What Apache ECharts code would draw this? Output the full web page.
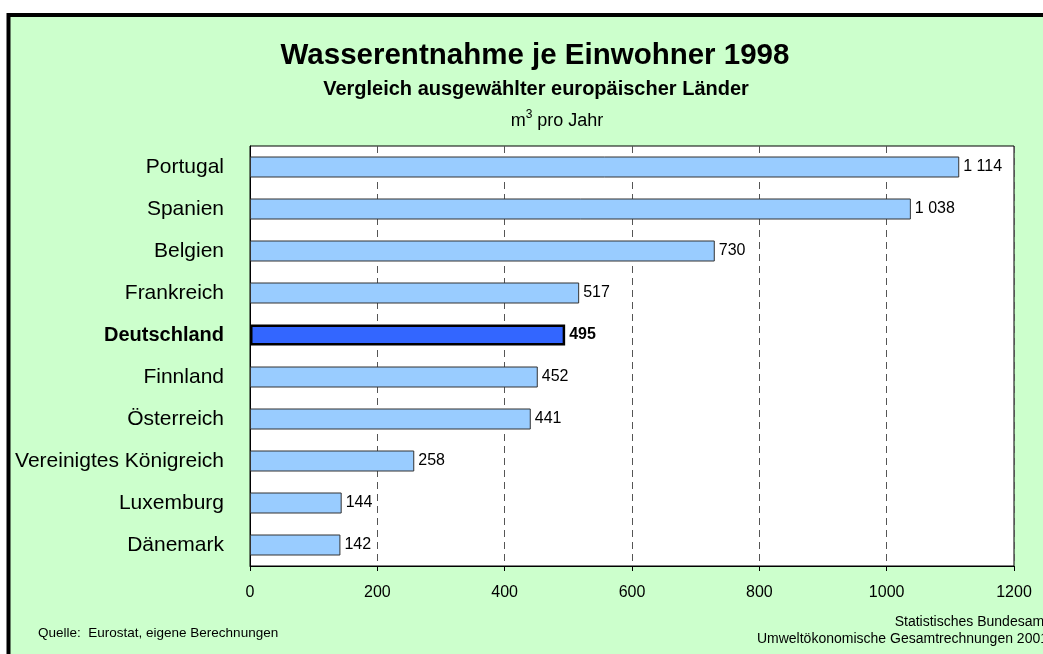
<!DOCTYPE html>
<html lang="de">
<head>
  <meta charset="UTF-8">
  <title>Wasserentnahme je Einwohner 1998</title>
  <style>
    html, body { margin: 0; padding: 0; background: #fff; }
    #myEcharts { width: 1043px; height: 654px; }
  </style>
  <script src="https://cdn.jsdelivr.net/npm/echarts@6/dist/echarts.min.js"></script>
</head>
<body>
  <div id="myEcharts"></div>
  <script>
    // Daten (m³ pro Jahr und Einwohner)
    var laender = ['Portugal', 'Spanien', 'Belgien', 'Frankreich', 'Deutschland',
      'Finnland', 'Österreich', 'Vereinigtes Königreich', 'Luxemburg', 'Dänemark'];
    var werte = [1114, 1038, 730, 517, 495, 452, 441, 258, 144, 142];
    var hervorgehoben = 'Deutschland';

    var fontName = 'Liberation Sans, Arial, sans-serif';

    // 1114 -> "1 114"
    function tausender(v) {
      return String(v).replace(/\B(?=(\d{3})+(?!\d))/g, ' ');
    }

    var myChart = echarts.init(document.getElementById('myEcharts'));
    var option = {
      backgroundColor: '#fff',
      textStyle: { fontFamily: fontName },
      graphic: [
        {
          type: 'rect', z: -10, silent: true,
          shape: { x: 8.5, y: 15, width: 1100, height: 700 },
          style: { fill: '#CCFFCC', stroke: '#000', lineWidth: 4 }
        },
        {
          type: 'text', x: 38, y: 633,
          style: { text: 'Quelle:  Eurostat, eigene Berechnungen', fontSize: 13.5, fill: '#000',
            verticalAlign: 'middle', fontFamily: fontName }
        },
        {
          type: 'text', x: 1048, y: 622,
          style: { text: 'Statistisches Bundesamt', fontSize: 14, fill: '#000', align: 'right',
            verticalAlign: 'middle', fontFamily: fontName }
        },
        {
          type: 'text', x: 1048, y: 639,
          style: { text: 'Umweltökonomische Gesamtrechnungen 2001', fontSize: 14, fill: '#000', align: 'right',
            verticalAlign: 'middle', fontFamily: fontName }
        }
      ],
      title: [
        {
          text: 'Wasserentnahme je Einwohner 1998',
          left: 530, top: 36, textAlign: 'center',
          textStyle: { fontSize: 29.5, fontWeight: 'bold', color: '#000', fontFamily: fontName }
        },
        {
          text: 'Vergleich ausgewählter europäischer Länder',
          left: 531, top: 74, textAlign: 'center',
          textStyle: { fontSize: 20, fontWeight: 'bold', color: '#000', fontFamily: fontName }
        },
        {
          text: '{a|m}{s|3}{a| pro Jahr}',
          left: 552, top: 104, textAlign: 'center',
          textStyle: {
            fontFamily: fontName, fontWeight: 'normal',
            rich: {
              a: { fontSize: 18, lineHeight: 24, fontWeight: 'normal', color: '#000', fontFamily: fontName },
              s: { fontSize: 12, lineHeight: 24, fontWeight: 'normal', verticalAlign: 'top', color: '#000', fontFamily: fontName }
            }
          }
        }
      ],
      grid: {
        left: 250, top: 146, width: 764, height: 420,
        show: true, backgroundColor: '#fff', borderColor: '#000', borderWidth: 1
      },
      xAxis: {
        type: 'value', min: 0, max: 1200, interval: 200,
        axisLine: { show: true, lineStyle: { color: '#000', width: 1 } },
        axisTick: { show: true, length: 5, lineStyle: { color: '#000' } },
        axisLabel: {
          margin: 19, fontSize: 16, color: '#000', fontFamily: fontName,
          formatter: function (v) { return String(v); }
        },
        splitLine: { show: true, lineStyle: { color: '#555', type: [7, 5], width: 1 } }
      },
      yAxis: {
        type: 'category', data: laender, inverse: true,
        axisLine: { show: true, lineStyle: { color: '#000', width: 1 } },
        axisTick: { show: false },
        axisLabel: {
          margin: 26, fontSize: 21, color: '#000', fontFamily: fontName,
          formatter: function (v) { return v === hervorgehoben ? '{b|' + v + '}' : v; },
          rich: { b: { fontSize: 20, fontWeight: 'bold', color: '#000', fontFamily: fontName } }
        }
      },
      series: [{
        type: 'bar',
        barCategoryGap: '50%',
        data: werte.map(function (v, i) {
          var hl = laender[i] === hervorgehoben;
          return {
            value: v,
            itemStyle: hl ? { color: '#3366FF', borderColor: '#000', borderWidth: 2.5 }
                          : { color: '#99CCFF', borderColor: '#333', borderWidth: 1 },
            label: hl ? { fontWeight: 'bold' } : {}
          };
        }),
        label: {
          show: true, position: 'right', distance: 4,
          fontSize: 16, color: '#000', fontFamily: fontName,
          formatter: function (p) { return tausender(p.value); }
        }
      }]
    };
    myChart.setOption(option);
  </script>
</body>
</html>
